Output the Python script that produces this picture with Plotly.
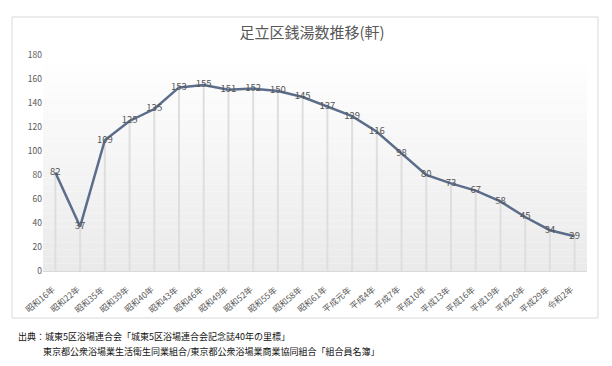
import plotly.graph_objects as go

categories = ["昭和16年", "昭和22年", "昭和35年", "昭和39年", "昭和40年", "昭和43年",
              "昭和46年", "昭和49年", "昭和52年", "昭和55年", "昭和58年", "昭和61年",
              "平成元年", "平成4年", "平成7年", "平成10年", "平成13年", "平成16年",
              "平成19年", "平成26年", "平成29年", "令和2年"]
values = [82, 37, 109, 125, 135, 153, 155, 151, 152, 150, 145, 137,
          129, 116, 98, 80, 73, 67, 58, 45, 34, 29]
y_ticks = [0, 20, 40, 60, 80, 100, 120, 140, 160, 180]

title_text = "足立区銭湯数推移(軒)"
source_line1 = "出典：城東5区浴場連合会「城東5区浴場連合会記念誌40年の里標」"
source_line2 = "東京都公衆浴場業生活衛生同業組合/東京都公衆浴場業商業協同組合「組合員名簿」"

FONT = "Noto Sans CJK JP"

# drop lines from each point to the axis
dx, dy = [], []
for c, v in zip(categories, values):
    dx += [c, c, None]
    dy += [0, v, None]

fig = go.Figure()
fig.add_trace(go.Scatter(x=dx, y=dy, mode="lines",
                         line=dict(color="#dedede", width=2),
                         hoverinfo="skip", showlegend=False))
fig.add_trace(go.Scatter(x=categories, y=values, mode="lines+text",
                         text=[str(v) for v in values],
                         textposition="middle center",
                         textfont=dict(family=FONT, size=9.5, color="#555555"),
                         line=dict(color="#5b6d8a", width=2.5),
                         showlegend=False))

# subtle vertical gradient for plot background
shapes = []
n = 30
for i in range(n):
    t = (i + 0.5) / n
    g = int(round(255 - (255 - 234) * (1 - t)))
    shapes.append(dict(type="rect", xref="x domain", yref="y domain",
                       x0=0, x1=1, y0=i / n, y1=(i + 1) / n,
                       fillcolor=f"rgb({g},{g},{g})", line=dict(width=0),
                       layer="below"))
# chart border
shapes.append(dict(type="rect", xref="paper", yref="paper",
                   x0=-31 / 544, x1=(598 - 43) / 544,
                   y0=(271 - 318) / 216, y1=(271 - 17) / 216,
                   line=dict(color="#d9d9d9", width=1), fillcolor="rgba(0,0,0,0)",
                   layer="below"))

# rotated category labels as annotations
annotations = [
    dict(text=c, x=c, xref="x", yref="paper", y=-9 / 216,
         xanchor="right", yanchor="top", textangle=-40, showarrow=False,
         xshift=4, font=dict(family=FONT, size=8.5, color="#595959"))
    for c in categories
]
annotations += [
    dict(text=source_line1, xref="paper", yref="paper", x=-27 / 544,
         y=(271 - 336) / 216, xanchor="left", yanchor="middle",
         showarrow=False, font=dict(family=FONT, size=9, color="#111111")),
    dict(text=source_line2, xref="paper", yref="paper", x=-2 / 544,
         y=(271 - 351) / 216, xanchor="left", yanchor="middle",
         showarrow=False, font=dict(family=FONT, size=9, color="#111111")),
]

fig.update_layout(
    width=612, height=366,
    margin=dict(l=43, r=25, t=55, b=95),
    paper_bgcolor="white", plot_bgcolor="white",
    font=dict(family=FONT),
    title=dict(text=title_text, x=0.51, xanchor="center", y=1 - 33 / 366,
               yanchor="middle", font=dict(family=FONT, size=15, color="#595959")),
    shapes=shapes,
    xaxis=dict(type="category", showgrid=False, showticklabels=False,
               showline=True, linecolor="#d9d9d9", linewidth=1,
               ticks="", range=[-0.5, len(categories) - 0.5]),
    yaxis=dict(range=[0, 180], tickvals=y_ticks, showgrid=False,
               zeroline=False, showline=False, ticks="",
               tickfont=dict(family=FONT, size=8.5, color="#595959")),
    annotations=annotations,
)

fig.write_html("out.html")
